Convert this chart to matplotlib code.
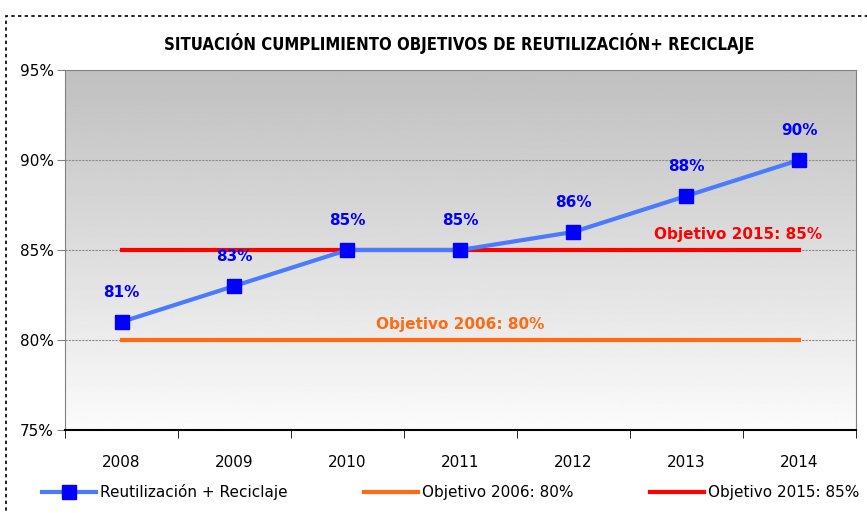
import matplotlib.pyplot as plt
import matplotlib.patches as patches
import numpy as np

years = ["2008", "2009", "2010", "2011", "2012", "2013", "2014"]
valores = [81, 83, 85, 85, 86, 88, 90]
obj2006 = [80, 80, 80, 80, 80, 80, 80]
obj2015 = [85, 85, 85, 85, 85, 85, 85]
yticks = [75, 80, 85, 90, 95]

fig = plt.figure(figsize=(8.67, 5.13), dpi=100)
ax = fig.add_axes([0.075, 0.162, 0.912, 0.7015])

x = np.arange(len(years))

# fondo degradado (oscuro arriba, claro abajo)
grad = np.linspace(0.75, 0.985, 256).reshape(-1, 1)
ax.imshow(grad, extent=[-0.5, 6.5, 75, 95], aspect="auto", cmap="gray",
          vmin=0, vmax=1, zorder=0, origin="upper")

for v in [80, 85, 90]:
    ax.axhline(v, color="#8a8a8a", lw=0.8, ls=(0, (2, 1)), zorder=1)

ax.plot(x, obj2006, color="#ff6a13", lw=3, zorder=2, label="Objetivo 2006: 80%")
ax.plot(x, obj2015, color="#ff0000", lw=3, zorder=2, label="Objetivo 2015: 85%")
ax.plot(x, valores, color="#4a7bff", lw=3, marker="s", markersize=10,
        markerfacecolor="#0000ff", markeredgecolor="#0000ff", zorder=3,
        label="Reutilización + Reciclaje")

for xi, v in zip(x, valores):
    ax.annotate(f"{v}%", (xi, v), xytext=(0, 16), textcoords="offset points",
                ha="center", va="bottom", color="#0000ff", fontweight="bold",
                fontsize=11)

ax.text(6.2, 85.45, "Objetivo 2015: 85%", color="#ff0000", fontweight="bold",
        fontsize=11, ha="right", va="bottom")
ax.text(3.0, 80.45, "Objetivo 2006: 80%", color="#ff6a13", fontweight="bold",
        fontsize=11, ha="center", va="bottom")

ax.set_xlim(-0.5, 6.5)
ax.set_ylim(75, 95)
ax.set_yticks(yticks)
ax.set_yticklabels([f"{v}%" for v in yticks], fontsize=11)
ax.set_xticks(x)
ax.set_xticklabels(years, fontsize=11)
ax.set_xticks(np.arange(-0.5, 7, 1), minor=True)
ax.tick_params(axis="x", which="major", length=0, pad=18)
ax.tick_params(axis="x", which="minor", length=6, direction="out", color="black")
ax.tick_params(axis="y", length=6, direction="out", color="#808080", pad=2)

for s in ["left", "right", "top"]:
    ax.spines[s].set_color("#808080")
ax.spines["bottom"].set_color("black")
ax.spines["bottom"].set_linewidth(1.5)

fig.text(0.53, 0.915, "SITUACIÓN CUMPLIMIENTO OBJETIVOS DE REUTILIZACIÓN+ RECICLAJE",
         ha="center", va="center", fontsize=12, fontweight="bold",
         fontstretch="condensed")

h, l = ax.get_legend_handles_labels()
fig.legend([h[2], h[0], h[1]], [l[2], l[0], l[1]], loc="center",
           bbox_to_anchor=(0.52, 0.04), ncol=3, frameon=False, fontsize=11,
           columnspacing=5, handlelength=3.5, handletextpad=0.3)

# borde punteado
fig.patches.append(patches.Rectangle((0.007, -0.01), 1.2, 0.978,
                                     transform=fig.transFigure, fill=False,
                                     ls=(0, (2, 2)), lw=1.2, color="black"))

fig.savefig("out.png", dpi=100)
